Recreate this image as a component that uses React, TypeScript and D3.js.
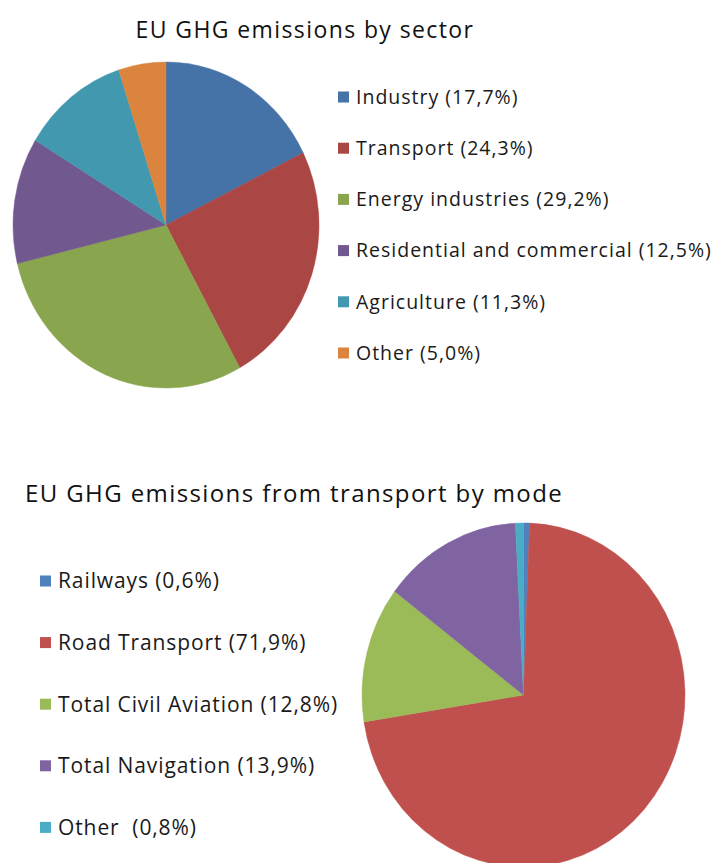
import * as d3 from 'd3'
import { useEffect, useRef } from 'react'

const W = 715, H = 863

// top chart: sectors
const sectorNames = ['Industry', 'Transport', 'Energy industries', 'Residential and commercial', 'Agriculture', 'Other']
const sectorShares = [17.7, 24.3, 29.2, 12.5, 11.3, 5.0]
const sectorColors = ['#4572A7', '#AA4643', '#89A54E', '#71588F', '#4198AF', '#DB843D']

// bottom chart: transport modes
const modeNames = ['Railways', 'Road Transport', 'Total Civil Aviation', 'Total Navigation', 'Other ']
const modeShares = [0.6, 71.9, 12.8, 13.9, 0.8]
const modeColors = ['#4F81BD', '#C0504D', '#9BBB59', '#8064A2', '#4BACC6']

const fmt = (v: number) => v.toFixed(1).replace('.', ',')

const FONT = '"Open Sans", sans-serif'

const drawPie = (g, names, shares, colors, opts) => {
  const { cx, cy, rx, ry } = opts
  const data = names.map((n, i) => ({ name: n, value: shares[i], color: colors[i] }))
  const pie = d3.pie<any>().sort(null).value(d => d.value)
  const arc = d3.arc<any>().innerRadius(0).outerRadius(ry)

  g.append('g')
    .attr('transform', `translate(${cx},${cy}) scale(${rx / ry},1)`)
  .selectAll('path')
  .data(pie(data))
  .join('path')
    .attr('d', arc)
    .attr('fill', d => d.data.color)
    .attr('stroke', d => d.data.color)
    .attr('stroke-width', 0.5)
}

const drawLegend = (g, names, shares, colors, opts) => {
  const { x, y0, step, size, spacing } = opts
  const yScale = d3.scalePoint<number>().domain(d3.range(names.length)).range([y0, y0 + step * (names.length - 1)])
  const row = g.append('g')
    .attr('font-family', FONT)
    .attr('font-size', size)
    .attr('letter-spacing', spacing)
    .attr('fill', '#1a1a1a')
  .selectAll('g')
  .data(names.map((n, i) => ({ n, v: shares[i], c: colors[i], i })))
  .join('g')
    .attr('transform', d => `translate(${x},${yScale(d.i)})`)

  row.append('rect')
    .attr('x', 0).attr('y', -5.5)
    .attr('width', 11).attr('height', 11)
    .attr('fill', d => d.c)

  row.append('text')
    .attr('x', 18)
    .attr('dy', '0.35em')
    .style('white-space', 'pre')
    .text(d => `${d.n} (${fmt(d.v)}%)`)
}

const chart = (svgNode) => {
  const svg = d3.select(svgNode)
  svg.selectAll('*').remove()

  svg.append('rect').attr('width', W).attr('height', H).attr('fill', '#fff')

  // top
  svg.append('text')
    .attr('x', 305).attr('y', 38)
    .attr('text-anchor', 'middle')
    .attr('font-family', FONT)
    .attr('font-size', 23)
    .attr('letter-spacing', 1.4)
    .attr('fill', '#111')
    .text('EU GHG emissions by sector')

  drawPie(svg, sectorNames, sectorShares, sectorColors, { cx: 166, cy: 225, rx: 153, ry: 163 })
  drawLegend(svg, sectorNames, sectorShares, sectorColors, { x: 338, y0: 97, step: 51.2, size: 19.5, spacing: 1 })

  // bottom
  svg.append('text')
    .attr('x', 25).attr('y', 502)
    .attr('font-family', FONT)
    .attr('font-size', 24)
    .attr('letter-spacing', 1.4)
    .attr('fill', '#111')
    .text('EU GHG emissions from transport by mode')

  drawPie(svg, modeNames, modeShares, modeColors, { cx: 523.5, cy: 695, rx: 161.5, ry: 172 })
  drawLegend(svg, modeNames, modeShares, modeColors, { x: 40, y0: 581, step: 61.6, size: 21, spacing: 0.9 })
}

export default function App() {
  const ref = useRef<SVGSVGElement>(null)
  useEffect(() => {
    document.body.style.margin = '0'
    if (ref.current) chart(ref.current)
  }, [])
  return <svg ref={ref} width={W} height={H} style={{ display: 'block' }} />
}
